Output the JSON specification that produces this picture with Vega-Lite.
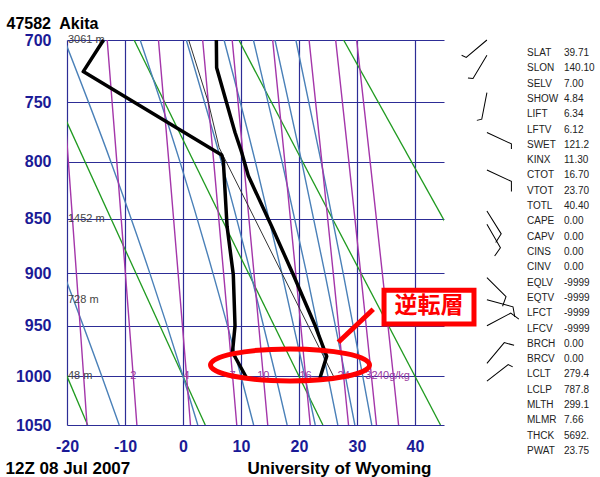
{
  "$schema": "https://vega.github.io/schema/vega-lite/v6.json",
  "width": 377,
  "height": 385,
  "autosize": {"type": "none"},
  "padding": {"left": 67, "top": 40, "right": 156, "bottom": 52},
  "background": "white",
  "config": {"view": {"stroke": null}, "font": "Liberation Sans"},
  "datasets": {
    "dry": [
      {"id": "d-20", "p": 700, "t": -44.55}, {"id": "d-20", "p": 1050, "t": -16.44},
      {"id": "d0", "p": 700, "t": -26.49}, {"id": "d0", "p": 1050, "t": 3.84},
      {"id": "d20", "p": 700, "t": -8.43}, {"id": "d20", "p": 1050, "t": 24.12},
      {"id": "d40", "p": 700, "t": 9.63}, {"id": "d40", "p": 1050, "t": 44.40},
      {"id": "d60", "p": 700, "t": 27.69}, {"id": "d60", "p": 1050, "t": 64.68}
    ],
    "moist": [
      {"id": "m-14", "p": 700, "t": -36.78}, {"id": "m-14", "p": 800, "t": -28.15}, {"id": "m-14", "p": 900, "t": -20.6}, {"id": "m-14", "p": 1000, "t": -14}, {"id": "m-14", "p": 1050, "t": -11.0},
      {"id": "m0", "p": 700, "t": -20.44}, {"id": "m0", "p": 800, "t": -12.43}, {"id": "m0", "p": 900, "t": -5.71}, {"id": "m0", "p": 1000, "t": 0}, {"id": "m0", "p": 1050, "t": 2.55},
      {"id": "m10", "p": 700, "t": -7.39}, {"id": "m10", "p": 800, "t": -0.52}, {"id": "m10", "p": 900, "t": 5.17}, {"id": "m10", "p": 1000, "t": 10}, {"id": "m10", "p": 1050, "t": 12.18},
      {"id": "m16", "p": 700, "t": 0.57}, {"id": "m16", "p": 800, "t": 6.62}, {"id": "m16", "p": 900, "t": 11.67}, {"id": "m16", "p": 1000, "t": 16}, {"id": "m16", "p": 1050, "t": 17.96},
      {"id": "m21", "p": 700, "t": 7.08}, {"id": "m21", "p": 800, "t": 12.48}, {"id": "m21", "p": 900, "t": 17.05}, {"id": "m21", "p": 1000, "t": 21}, {"id": "m21", "p": 1050, "t": 22.8},
      {"id": "m25", "p": 700, "t": 12.14}, {"id": "m25", "p": 800, "t": 17.08}, {"id": "m25", "p": 900, "t": 21.31}, {"id": "m25", "p": 1000, "t": 25}, {"id": "m25", "p": 1050, "t": 26.69},
      {"id": "m28", "p": 700, "t": 15.86}, {"id": "m28", "p": 800, "t": 20.47}, {"id": "m28", "p": 900, "t": 24.47}, {"id": "m28", "p": 1000, "t": 28}, {"id": "m28", "p": 1050, "t": 29.63},
      {"id": "m31", "p": 700, "t": 19.46}, {"id": "m31", "p": 800, "t": 23.82}, {"id": "m31", "p": 900, "t": 27.62}, {"id": "m31", "p": 1000, "t": 31}, {"id": "m31", "p": 1050, "t": 32.55}
    ],
    "mix": [
      {"id": "w1", "p": 700, "t": -21.30}, {"id": "w1", "p": 800, "t": -19.76}, {"id": "w1", "p": 900, "t": -18.38}, {"id": "w1", "p": 1000, "t": -17.13}, {"id": "w1", "p": 1050, "t": -16.55},
      {"id": "w2", "p": 700, "t": -13.07}, {"id": "w2", "p": 800, "t": -11.41}, {"id": "w2", "p": 900, "t": -9.93}, {"id": "w2", "p": 1000, "t": -8.58}, {"id": "w2", "p": 1050, "t": -7.95},
      {"id": "w4", "p": 700, "t": -4.23}, {"id": "w4", "p": 800, "t": -2.44}, {"id": "w4", "p": 900, "t": -0.84}, {"id": "w4", "p": 1000, "t": 0.62}, {"id": "w4", "p": 1050, "t": 1.29},
      {"id": "w7", "p": 700, "t": 3.39}, {"id": "w7", "p": 800, "t": 5.30}, {"id": "w7", "p": 900, "t": 7.00}, {"id": "w7", "p": 1000, "t": 8.55}, {"id": "w7", "p": 1050, "t": 9.27},
      {"id": "w10", "p": 700, "t": 8.48}, {"id": "w10", "p": 800, "t": 10.46}, {"id": "w10", "p": 900, "t": 12.24}, {"id": "w10", "p": 1000, "t": 13.85}, {"id": "w10", "p": 1050, "t": 14.61},
      {"id": "w16", "p": 700, "t": 15.46}, {"id": "w16", "p": 800, "t": 17.56}, {"id": "w16", "p": 900, "t": 19.44}, {"id": "w16", "p": 1000, "t": 21.14}, {"id": "w16", "p": 1050, "t": 21.94},
      {"id": "w24", "p": 700, "t": 21.74}, {"id": "w24", "p": 800, "t": 23.94}, {"id": "w24", "p": 900, "t": 25.91}, {"id": "w24", "p": 1000, "t": 27.70}, {"id": "w24", "p": 1050, "t": 28.54},
      {"id": "w32", "p": 700, "t": 26.32}, {"id": "w32", "p": 800, "t": 28.60}, {"id": "w32", "p": 900, "t": 30.64}, {"id": "w32", "p": 1000, "t": 32.49}, {"id": "w32", "p": 1050, "t": 33.36},
      {"id": "w40", "p": 700, "t": 29.94}, {"id": "w40", "p": 800, "t": 32.27}, {"id": "w40", "p": 900, "t": 34.37}, {"id": "w40", "p": 1000, "t": 36.28}, {"id": "w40", "p": 1050, "t": 37.17}
    ],
    "mixlab": [
      {"lab": "2", "p": 1000, "t": -8.58}, {"lab": "4", "p": 1000, "t": 0.62}, {"lab": "7", "p": 1000, "t": 8.55},
      {"lab": "10", "p": 1000, "t": 13.85}, {"lab": "16", "p": 1000, "t": 21.14}, {"lab": "24", "p": 1000, "t": 27.70},
      {"lab": "32", "p": 1000, "t": 32.49}, {"lab": "40g/kg", "p": 1000, "t": 36.28}
    ],
    "heights": [
      {"lab": "3061 m", "p": 700}, {"lab": "1452 m", "p": 850}, {"lab": "728 m", "p": 925}, {"lab": "48 m", "p": 1000}
    ],
    "sounding": [
      {"id": "T", "p": 700, "t": 5.75}, {"id": "T", "p": 722, "t": 5.8}, {"id": "T", "p": 775, "t": 8.97}, {"id": "T", "p": 792, "t": 10.12}, {"id": "T", "p": 812, "t": 11.26}, {"id": "T", "p": 857, "t": 15.3}, {"id": "T", "p": 901, "t": 19.0}, {"id": "T", "p": 950, "t": 22.8}, {"id": "T", "p": 980, "t": 24.78}, {"id": "T", "p": 1002, "t": 23.6},
      {"id": "Td", "p": 700, "t": -13.7}, {"id": "Td", "p": 725, "t": -17.2}, {"id": "Td", "p": 794, "t": 6.67}, {"id": "Td", "p": 799, "t": 6.95}, {"id": "Td", "p": 857, "t": 7.6}, {"id": "Td", "p": 901, "t": 8.67}, {"id": "Td", "p": 950, "t": 8.97}, {"id": "Td", "p": 976, "t": 8.53}, {"id": "Td", "p": 1002, "t": 11.0}
    ],
    "parcel": [
      {"p": 700, "t": 0.98}, {"p": 750, "t": 4.37}, {"p": 787.8, "t": 6.23}, {"p": 850, "t": 12.37}, {"p": 900, "t": 17.07}, {"p": 1000, "t": 25.95}
    ],
    "barbs": [
      {"p": 700, "dir": 230, "k": "h"}, {"p": 712, "dir": 211, "k": "h"}, {"p": 742, "dir": 191, "k": "h"},
      {"p": 775, "dir": 115, "k": "h"}, {"p": 807, "dir": 115, "k": "f"}, {"p": 843, "dir": 148, "k": "f"},
      {"p": 855, "dir": 150, "k": "f"}, {"p": 904, "dir": 135, "k": "f"}, {"p": 925, "dir": 105, "k": "f"},
      {"p": 950, "dir": 62, "k": "f"}, {"p": 987, "dir": 40, "k": "f"}, {"p": 1005, "dir": 52, "k": "h"}
    ],
    "stats": [
      {"i": 0, "k": "SLAT", "v": "39.71"}, {"i": 1, "k": "SLON", "v": "140.10"}, {"i": 2, "k": "SELV", "v": "7.00"},
      {"i": 3, "k": "SHOW", "v": "4.84"}, {"i": 4, "k": "LIFT", "v": "6.34"}, {"i": 5, "k": "LFTV", "v": "6.12"},
      {"i": 6, "k": "SWET", "v": "121.2"}, {"i": 7, "k": "KINX", "v": "11.30"}, {"i": 8, "k": "CTOT", "v": "16.70"},
      {"i": 9, "k": "VTOT", "v": "23.70"}, {"i": 10, "k": "TOTL", "v": "40.40"}, {"i": 11, "k": "CAPE", "v": "0.00"},
      {"i": 12, "k": "CAPV", "v": "0.00"}, {"i": 13, "k": "CINS", "v": "0.00"}, {"i": 14, "k": "CINV", "v": "0.00"},
      {"i": 15, "k": "EQLV", "v": "-9999"}, {"i": 16, "k": "EQTV", "v": "-9999"}, {"i": 17, "k": "LFCT", "v": "-9999"},
      {"i": 18, "k": "LFCV", "v": "-9999"}, {"i": 19, "k": "BRCH", "v": "0.00"}, {"i": 20, "k": "BRCV", "v": "0.00"},
      {"i": 21, "k": "LCLT", "v": "279.4"}, {"i": 22, "k": "LCLP", "v": "787.8"}, {"i": 23, "k": "MLTH", "v": "299.1"},
      {"i": 24, "k": "MLMR", "v": "7.66"}, {"i": 25, "k": "THCK", "v": "5692."}, {"i": 26, "k": "PWAT", "v": "23.75"}
    ]
  },
  "layer": [
    {
      "layer": [
        {
          "data": {"name": "dry"},
          "mark": {"type": "line", "clip": true, "color": "#1f9a1f", "strokeWidth": 1.3},
          "encoding": {
            "x": {
              "field": "t", "type": "quantitative",
              "scale": {"type": "linear", "domain": [-20, 45], "nice": false, "zero": false},
              "axis": {
                "values": [-20, -15, -10, -5, 0, 5, 10, 15, 20, 25, 30, 35, 40, 45],
                "labelExpr": "datum.value % 10 == 0 ? '' + datum.value : ''",
                "grid": true, "gridColor": "#2d2d96", "gridWidth": 1.2, "gridOpacity": 1,
                "ticks": false, "domain": false, "labelPadding": 13, "labelFontSize": 16, "labelFontWeight": "bold",
                "labelColor": "#1a1a96", "labelFont": "Liberation Sans", "labelFlush": false, "labelOverlap": false,
                "title": "University of Wyoming", "titleX": 272, "titleY": 48.3, "titleAlign": "center",
                "titleBaseline": "alphabetic", "titleFontSize": 17, "titleFontWeight": "bold", "titleColor": "black", "titleFont": "Liberation Sans"
              }
            },
            "y": {
              "field": "p", "type": "quantitative",
              "scale": {"type": "pow", "exponent": 0.286, "domain": [700, 1050], "reverse": true, "nice": false, "zero": false},
              "axis": {
                "values": [700, 725, 750, 775, 800, 825, 850, 875, 900, 925, 950, 975, 1000, 1025, 1050],
                "labelExpr": "datum.value % 50 == 0 ? '' + datum.value : ''",
                "grid": true, "gridColor": "#2d2d96", "gridWidth": 1.2, "gridOpacity": 1,
                "ticks": false, "domain": false, "labelPadding": 16, "labelFontSize": 16, "labelFontWeight": "bold",
                "labelColor": "#1a1a96", "labelFont": "Liberation Sans", "labelFlush": false, "labelOverlap": false,
                "title": "12Z 08 Jul 2007", "titleAngle": 0, "titleX": -62, "titleY": 433.3, "titleAlign": "left",
                "titleBaseline": "alphabetic", "titleFontSize": 17, "titleFontWeight": "bold", "titleColor": "black", "titleFont": "Liberation Sans"
              }
            },
            "detail": {"field": "id"},
            "order": {"field": "p"}
          }
        },
        {
          "data": {"name": "moist"},
          "mark": {"type": "line", "clip": true, "color": "#4a80b8", "strokeWidth": 1.4, "interpolate": "monotone"},
          "encoding": {
            "x": {"field": "t", "type": "quantitative"},
            "y": {"field": "p", "type": "quantitative"},
            "detail": {"field": "id"}, "order": {"field": "p"}
          }
        },
        {
          "data": {"name": "mix"},
          "mark": {"type": "line", "clip": true, "color": "#a436aa", "strokeWidth": 1.4},
          "encoding": {
            "x": {"field": "t", "type": "quantitative"},
            "y": {"field": "p", "type": "quantitative"},
            "detail": {"field": "id"}, "order": {"field": "p"}
          }
        },
        {
          "data": {"name": "mixlab"},
          "mark": {"type": "text", "color": "#9a3aa0", "fontSize": 11, "align": "center", "baseline": "middle", "font": "Liberation Sans"},
          "encoding": {
            "x": {"field": "t", "type": "quantitative"},
            "y": {"field": "p", "type": "quantitative"},
            "text": {"field": "lab"}
          }
        },
        {
          "data": {"name": "heights"},
          "mark": {"type": "text", "color": "#444444", "fontSize": 11, "align": "left", "baseline": "middle", "dx": 1, "font": "Liberation Sans"},
          "encoding": {
            "x": {"datum": -20, "type": "quantitative"},
            "y": {"field": "p", "type": "quantitative"},
            "text": {"field": "lab"}
          }
        },
        {
          "data": {"name": "parcel"},
          "mark": {"type": "line", "color": "#333333", "strokeWidth": 1},
          "encoding": {
            "x": {"field": "t", "type": "quantitative"},
            "y": {"field": "p", "type": "quantitative"},
            "order": {"field": "p"}
          }
        },
        {
          "data": {"name": "sounding"},
          "mark": {"type": "line", "color": "black", "strokeWidth": 3.5, "strokeJoin": "round"},
          "encoding": {
            "x": {"field": "t", "type": "quantitative"},
            "y": {"field": "p", "type": "quantitative"},
            "detail": {"field": "id"}, "order": {"field": "p"}
          }
        },
        {
          "data": {"values": [{}]},
          "mark": {"type": "point", "shape": "M -1,0 C -1,-0.1112 -0.5523,-0.2013 0,-0.2013 C 0.5523,-0.2013 1,-0.1112 1,0 C 1,0.1112 0.5523,0.2013 0,0.2013 C -0.5523,0.2013 -1,0.1112 -1,0 Z", "size": 25281, "filled": false, "color": "#ff0000", "strokeWidth": 5, "opacity": 1},
          "encoding": {"x": {"datum": 18.45, "type": "quantitative"}, "y": {"datum": 988.6, "type": "quantitative"}}
        },
        {
          "data": {"values": [{}]},
          "mark": {"type": "rule", "color": "#ff0000", "strokeWidth": 5},
          "encoding": {"x": {"datum": 32.8, "type": "quantitative"}, "y": {"datum": 934, "type": "quantitative"}, "x2": {"datum": 26.78}, "y2": {"datum": 966.1}}
        },
        {
          "data": {"values": [{}]},
          "mark": {"type": "rect", "fill": "white", "stroke": "#ff0000", "strokeWidth": 5},
          "encoding": {"x": {"datum": 34.66, "type": "quantitative"}, "x2": {"datum": 50.17}, "y": {"datum": 915.8, "type": "quantitative"}, "y2": {"datum": 948.3}}
        },
        {
          "data": {"values": [{"lab": "逆転層"}]},
          "mark": {"type": "text", "color": "#ff0000", "fontSize": 23, "fontWeight": "bold", "font": "Noto Sans CJK JP", "align": "center", "baseline": "middle"},
          "encoding": {"x": {"datum": 42.4, "type": "quantitative"}, "y": {"datum": 931, "type": "quantitative"}, "text": {"field": "lab"}}
        },
        {
          "data": {"name": "barbs"},
          "mark": {"type": "point", "filled": false, "color": "black", "strokeWidth": 1, "opacity": 1, "size": 2916},
          "encoding": {
            "x": {"datum": 52.4, "type": "quantitative"},
            "y": {"field": "p", "type": "quantitative"},
            "shape": {"field": "k", "type": "nominal", "legend": null,
              "scale": {"domain": ["h", "f"], "range": ["M 0,0 L 0,-1 L 0.17,-1.08", "M 0,0 L 0,-1 L 0.34,-1.16"]}},
            "angle": {"field": "dir", "type": "quantitative", "scale": {"domain": [0, 360], "range": [0, 360]}}
          }
        }
      ]
    },
    {
      "data": {"name": "stats"},
      "encoding": {
        "y": {"field": "i", "type": "quantitative", "scale": {"domain": [0, 26], "range": [13, 411], "nice": false, "zero": false}, "axis": null}
      },
      "layer": [
        {
          "mark": {"type": "text", "align": "left", "baseline": "middle", "fontSize": 10, "color": "#222222", "font": "Liberation Sans"},
          "encoding": {
            "x": {"datum": 0, "type": "quantitative", "scale": {"domain": [0, 1], "range": [460, 497]},
              "axis": {"orient": "top", "labels": false, "ticks": false, "domain": false, "grid": false,
                "title": "47582\u00a0 Akita", "titleX": -61, "titleY": -12, "titleAlign": "left", "titleAngle": 0,
                "titleBaseline": "alphabetic", "titleFontSize": 16, "titleFontWeight": "bold", "titleColor": "black", "titleFont": "Liberation Sans"}},
            "text": {"field": "k"}
          }
        },
        {
          "mark": {"type": "text", "align": "left", "baseline": "middle", "fontSize": 10, "color": "#222222", "font": "Liberation Sans"},
          "encoding": {"x": {"datum": 1, "type": "quantitative"}, "text": {"field": "v"}}
        }
      ]
    }
  ],
  "resolve": {"scale": {"x": "independent", "y": "independent"}, "axis": {"x": "independent", "y": "independent"}}
}
